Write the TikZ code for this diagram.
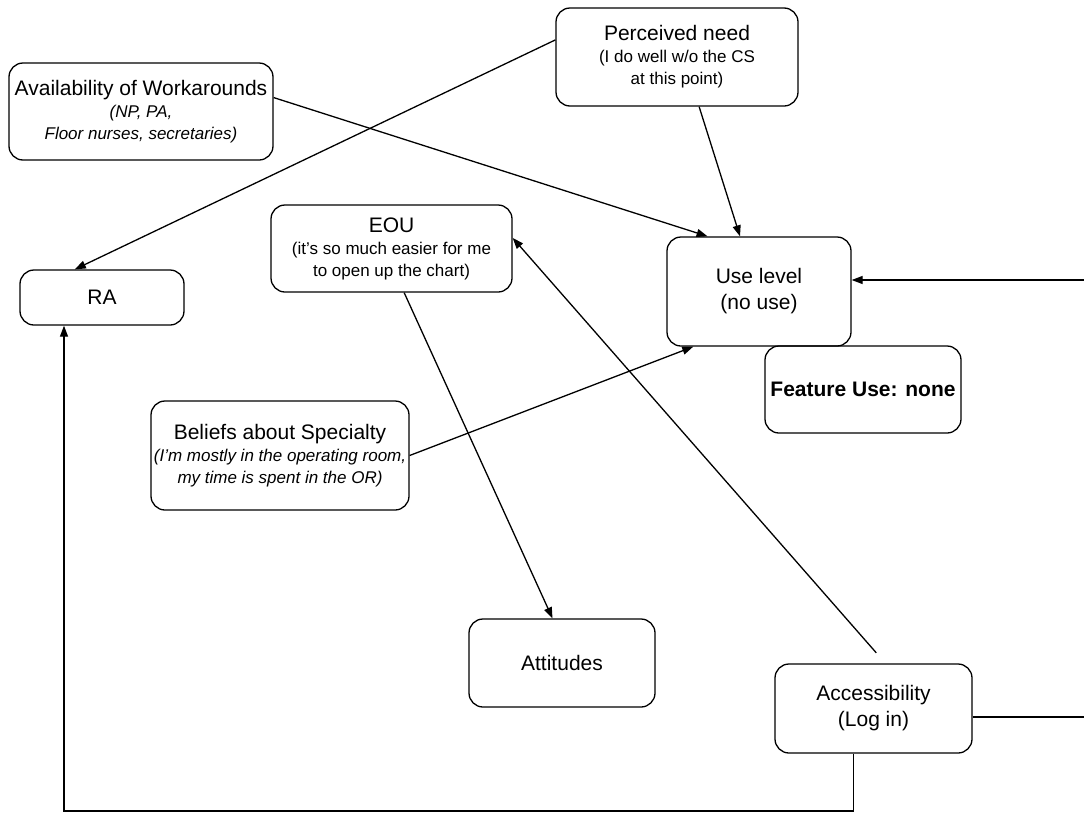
\documentclass[tikz,border=0pt]{standalone}
\usepackage{fontspec}
\setmainfont{Liberation Sans}
\usetikzlibrary{arrows.meta, calc}

\newcommand{\mainsize}{\fontsize{21}{26}\selectfont}
\newcommand{\subsize}{\fontsize{17}{22}\selectfont}
\tikzset{
  fbox/.style={draw, line width=1.3pt, rounded corners=14pt, inner sep=0pt, align=center, font=\mainsize},
  arr/.style={-{Triangle[length=11pt,width=8pt]}, line width=1.3pt}
}

\begin{document}
\begin{tikzpicture}[x=1pt, y=-1pt]
    \useasboundingbox (0,0) rectangle (1084,817);
    % Top row: factors
    \node[fbox, font=\subsize, minimum width=264, minimum height=97] (avail) at (141,111.5)
        {{\mainsize Availability of Workarounds}\\\itshape (NP, PA,\\\itshape Floor nurses, secretaries)};
    \node[fbox, font=\subsize, minimum width=242, minimum height=98] (need) at (677,57)
        {{\mainsize Perceived need}\\(I do well w/o the CS\\at this point)};
    \node[fbox, minimum width=164, minimum height=55] (ra) at (102,297.5) {RA};
    \node[fbox, font=\subsize, minimum width=241, minimum height=87] (eou) at (391.5,248.5)
        {{\mainsize EOU}\\(it's so much easier for me\\to open up the chart)};
    % Middle: outcome
    \node[fbox, minimum width=184, minimum height=109] (use) at (759,291.5) {Use level\\(no use)};
    \node[fbox, font=\mainsize\bfseries, minimum width=196, minimum height=87] (feat) at (863,389.5) {Feature Use: none};
    \node[fbox, font=\subsize, minimum width=258, minimum height=109] (belief) at (280,455.5)
        {{\mainsize Beliefs about Specialty}\\\itshape (I'm mostly in the operating room,\\\itshape my time is spent in the OR)};
    % Bottom row
    \node[fbox, minimum width=186, minimum height=88] (att) at (562,663) {Attitudes};
    \node[fbox, minimum width=197, minimum height=89] (acc) at (873.5,708.5) {Accessibility\\(Log in)};
    \coordinate (inR) at (1084,280);
    \coordinate (outR) at (1084,717);
    \coordinate (bot) at (64,811);
    % Arrows
    \draw[arr] (need.172) -- (ra.134);
    \draw[arr] (avail.6) -- (use.133);
    \draw[arr] (need.294) -- (use.109);
    \draw[arr] (eou.286) -- (att.102);
    \draw[arr] (belief.east) -- (use.220);
    \draw[arr, shorten <=14pt] ($(acc.north)+(12,0)$) -- (eou.5);
    \draw[arr] (inR) -- (inR -| use.east);
    \draw[line width=1.3pt] (outR -| acc.east) -- (outR);
    \draw[arr] ($(acc.south)+(-20,0)$) |- (bot) -- (bot |- ra.south);
\end{tikzpicture}
\end{document}
